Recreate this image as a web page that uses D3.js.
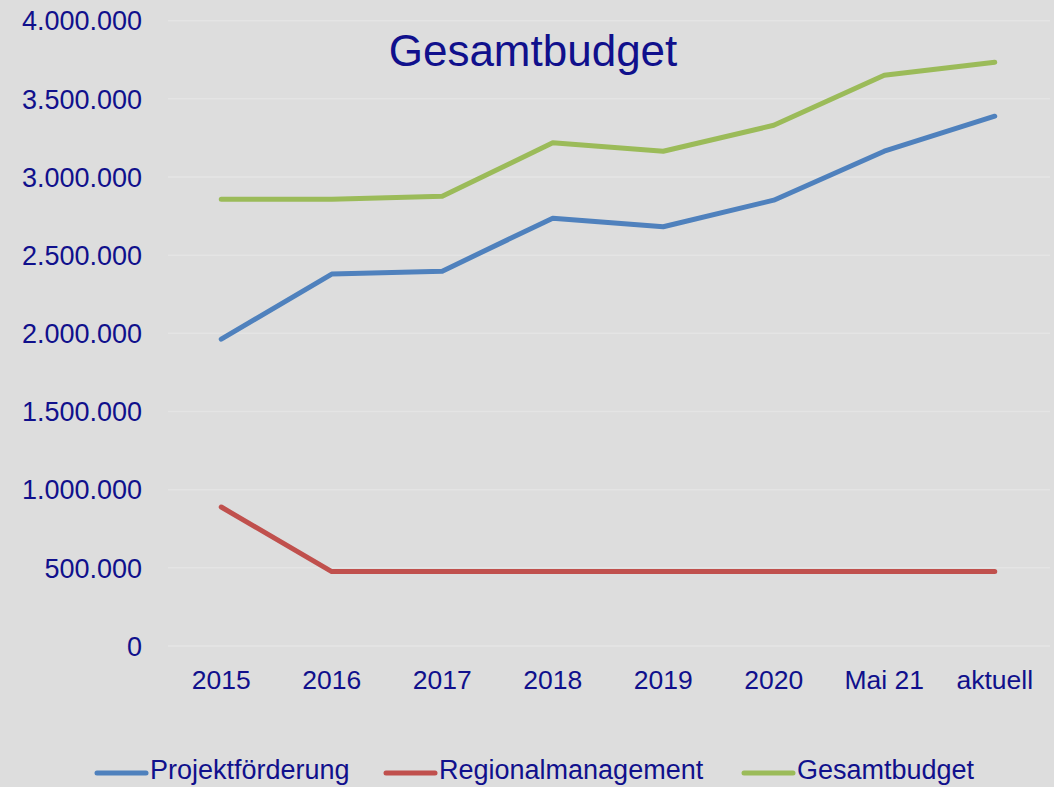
<!DOCTYPE html>
<html>
<head>
<meta charset="utf-8">
<script src="https://cdn.jsdelivr.net/npm/d3@7"></script>
<style>
	body { margin: 0; background: #dddddd; }
	svg { display: block; font-family: "Liberation Sans", Arial, sans-serif; }
</style>
</head>
<body>
<div id="chart"></div>
<script>
var categories = ["2015", "2016", "2017", "2018", "2019", "2020", "Mai 21", "aktuell"];
var projektfoerderung = [1963000, 2379000, 2398000, 2737000, 2682000, 2852000, 3165000, 3389000];
var regionalmanagement = [889000, 476000, 476000, 476000, 476000, 476000, 476000, 476000];
var gesamtbudget = [2858000, 2858000, 2877000, 3219000, 3165000, 3331000, 3651000, 3734000];
var yTicks = [0, 500000, 1000000, 1500000, 2000000, 2500000, 3000000, 3500000, 4000000];

var series = [
	{name: "Projektförderung", values: projektfoerderung, color: "#4f81bd"},
	{name: "Regionalmanagement", values: regionalmanagement, color: "#c0504d"},
	{name: "Gesamtbudget", values: gesamtbudget, color: "#9bbb59"}
];

var width = 1054, height = 787;
var textColor = "#10108c";

var svg = d3.select("#chart").append("svg")
	.attr("width", width)
	.attr("height", height);

svg.append("rect")
	.attr("width", width)
	.attr("height", height)
	.attr("fill", "#dddddd");

var x = d3.scaleBand()
	.domain(categories)
	.range([166, 1050]);

var y = d3.scaleLinear()
	.domain([0, 4000000])
	.range([646, 20.7]);

// de-DE number format: 4.000.000
var de = d3.formatLocale({decimal: ",", thousands: ".", grouping: [3], currency: ["", " €"]});
var fmt = de.format(",.0f");

// gridlines
svg.append("g").selectAll("line")
		.data(yTicks)
	.enter().append("line")
		.attr("x1", 168)
		.attr("x2", 1050)
		.attr("y1", function(d) { return y(d); })
		.attr("y2", function(d) { return y(d); })
		.style("stroke", "#e4e4e4")
		.style("stroke-width", 1.5);

// y labels
svg.append("g").selectAll("text")
		.data(yTicks)
	.enter().append("text")
		.attr("x", 142)
		.attr("y", function(d) { return y(d); })
		.attr("dy", "0.36em")
		.attr("text-anchor", "end")
		.style("font-size", "27px")
		.style("fill", textColor)
		.text(function(d) { return fmt(d); });

// x labels
svg.append("g").selectAll("text")
		.data(categories)
	.enter().append("text")
		.attr("x", function(d) { return x(d) + x.bandwidth() / 2; })
		.attr("y", 689)
		.attr("text-anchor", "middle")
		.style("font-size", "26.5px")
		.style("fill", textColor)
		.text(function(d) { return d; });

// lines
var line = d3.line()
	.x(function(d, i) { return x(categories[i]) + x.bandwidth() / 2; })
	.y(function(d) { return y(d); });

svg.append("g").selectAll("path")
		.data(series)
	.enter().append("path")
		.attr("d", function(d) { return line(d.values); })
		.style("fill", "none")
		.style("stroke", function(d) { return d.color; })
		.style("stroke-width", 5)
		.style("stroke-linecap", "round")
		.style("stroke-linejoin", "round");

// title
svg.append("text")
	.attr("x", 533)
	.attr("y", 66)
	.attr("text-anchor", "middle")
	.style("font-size", "44px")
	.style("fill", textColor)
	.text("Gesamtbudget");

// legend
var legendX = [97, 386, 744];
var legend = svg.append("g").selectAll("g")
		.data(series)
	.enter().append("g")
		.attr("transform", function(d, i) { return "translate(" + legendX[i] + ",773)"; });

legend.append("line")
	.attr("x1", 0)
	.attr("x2", 49)
	.style("stroke", function(d) { return d.color; })
	.style("stroke-width", 5)
	.style("stroke-linecap", "round");

legend.append("text")
	.attr("x", 53)
	.attr("y", 6)
	.style("font-size", "27px")
	.style("fill", textColor)
	.text(function(d) { return d.name; });
</script>
</body>
</html>
